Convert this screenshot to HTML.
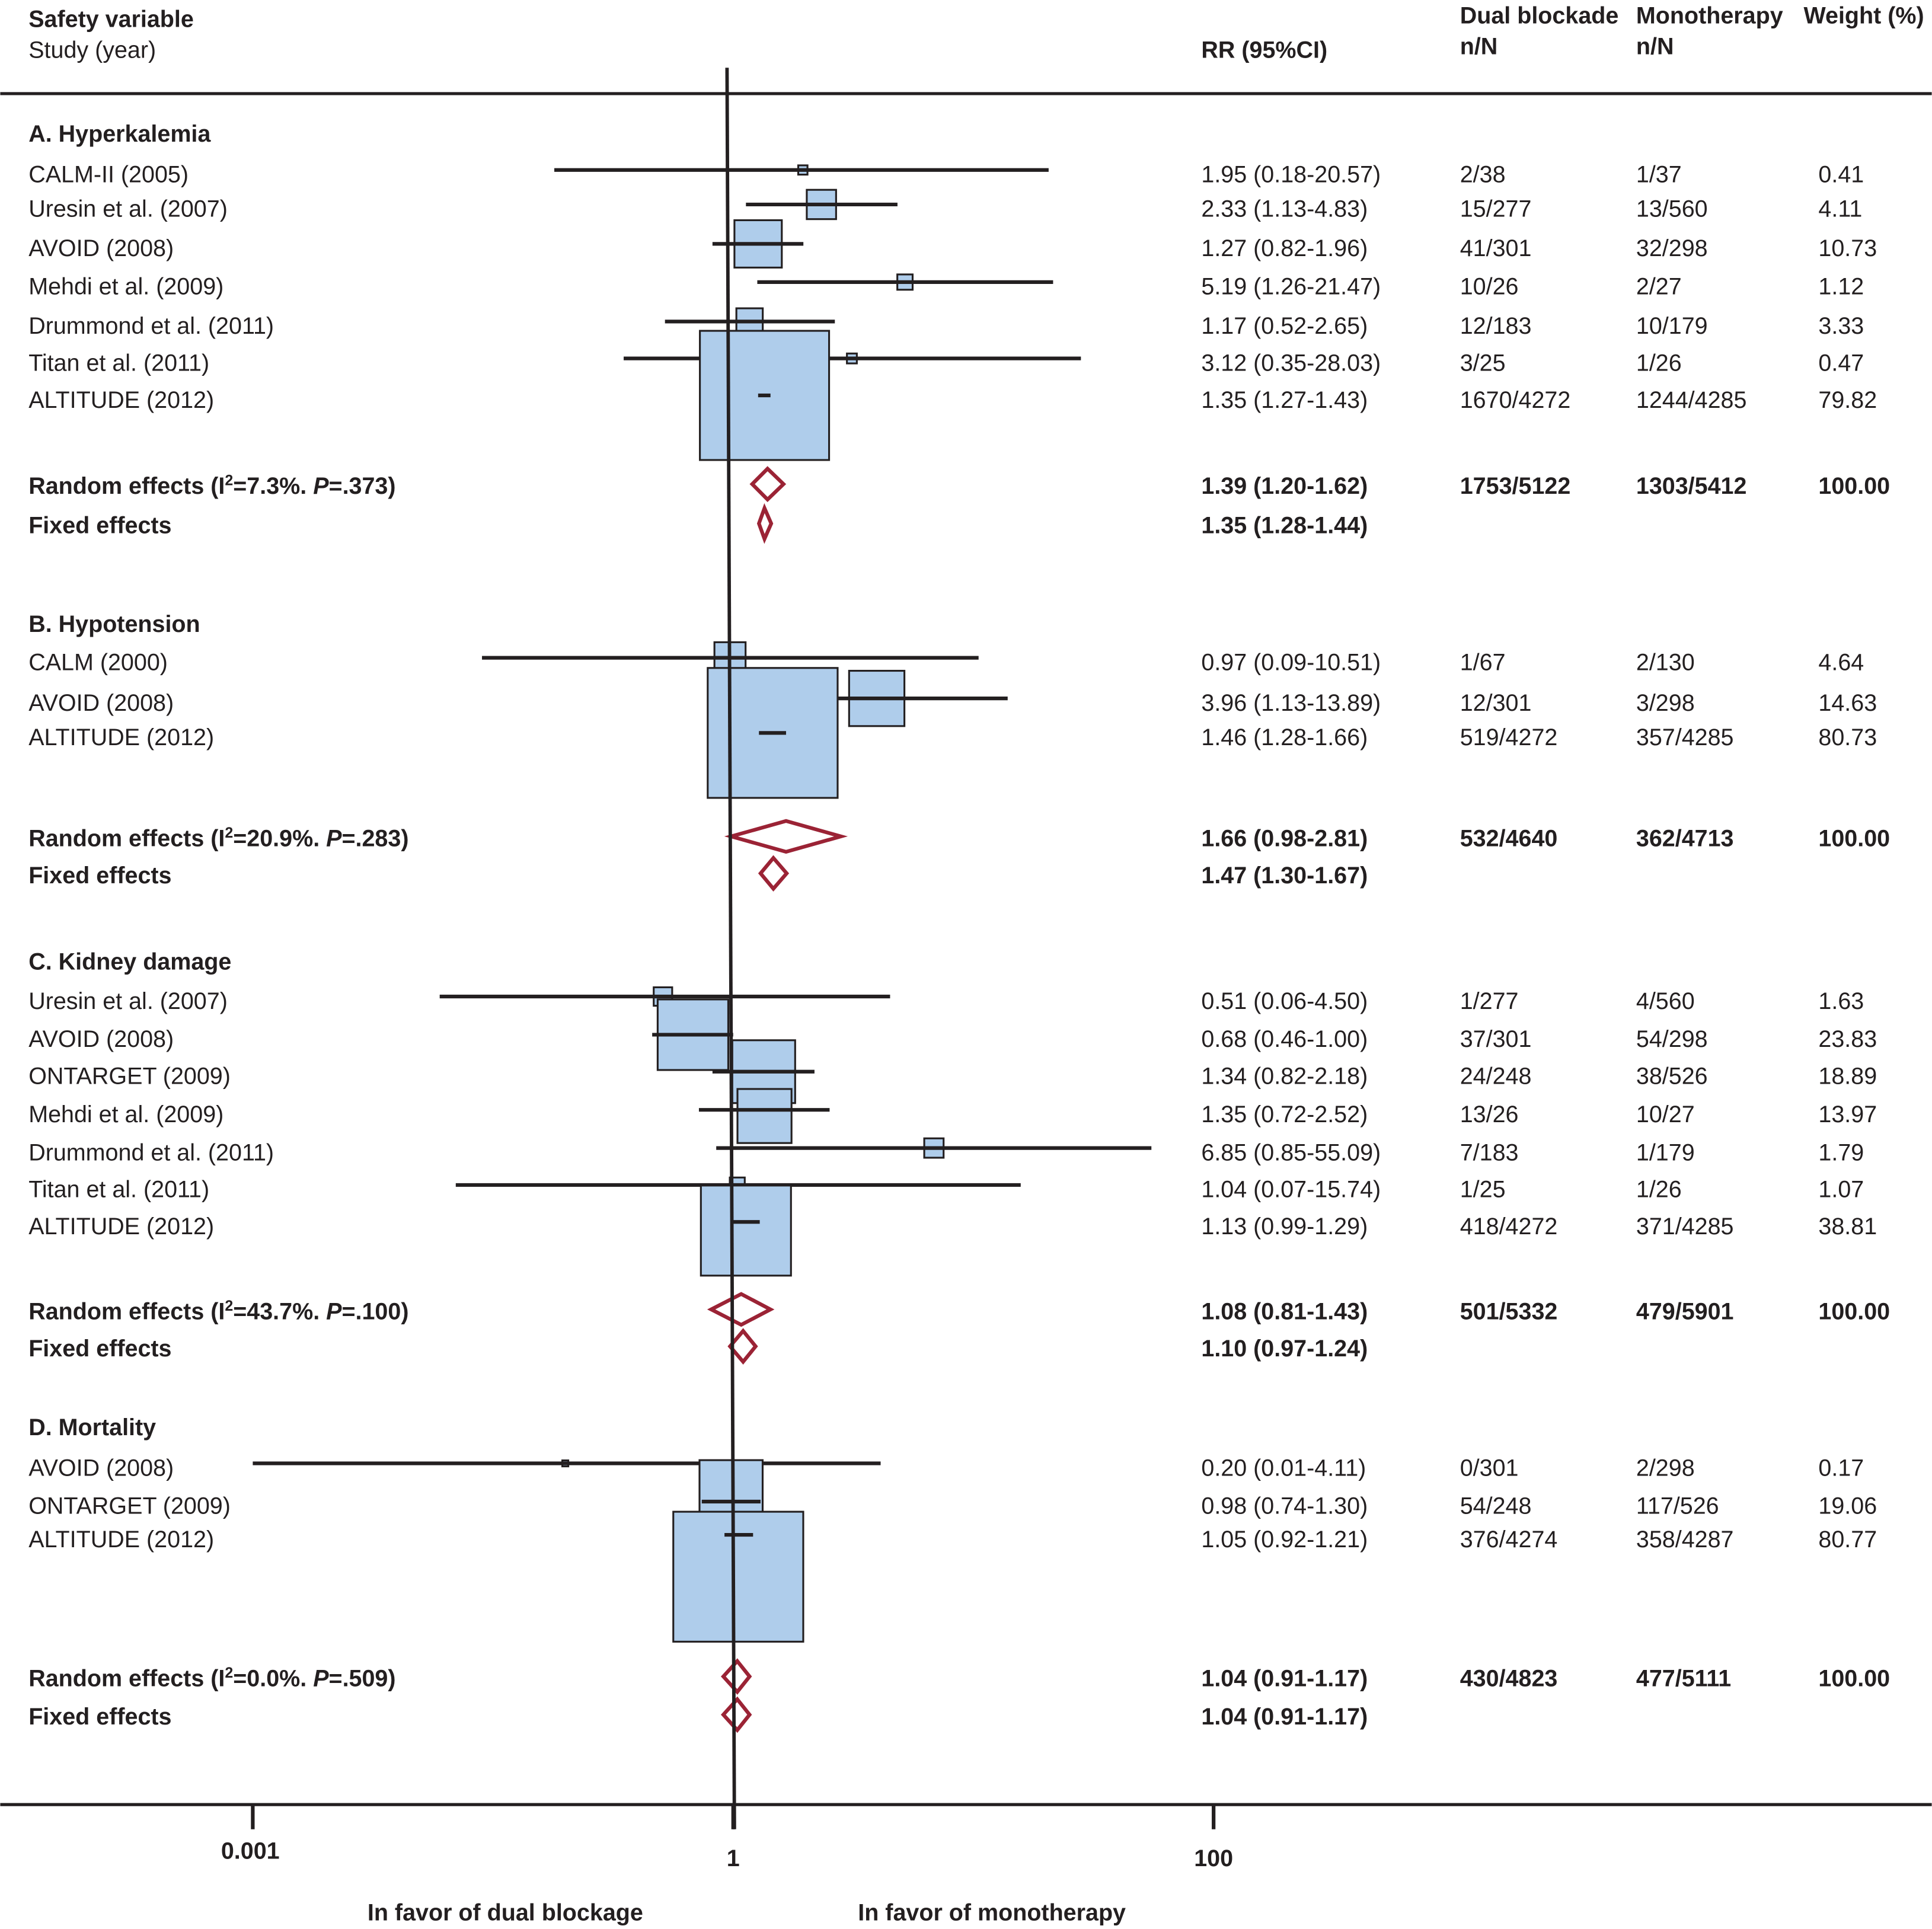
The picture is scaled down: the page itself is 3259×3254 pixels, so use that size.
<!DOCTYPE html>
<html><head><meta charset="utf-8"><style>
html,body{margin:0;padding:0;background:#fff}
svg{display:block}
text{font-family:"Liberation Sans",Arial,sans-serif;font-size:19px;fill:#231f20}
.b{font-weight:bold}
</style></head><body>
<svg id="chart" width="3259" height="3254" viewBox="0 0 1568 1566" xmlns="http://www.w3.org/2000/svg">
<g id="hdr">
<text x="23" y="22" class="b">Safety variable</text>
<text x="23" y="47">Study (year)</text>
<text x="975" y="47" class="b">RR (95%CI)</text>
<text x="1185" y="19" class="b">Dual blockade</text>
<text x="1185" y="44" class="b">n/N</text>
<text x="1328" y="19" class="b">Monotherapy</text>
<text x="1328" y="44" class="b">n/N</text>
<text x="1464" y="19" class="b">Weight (%)</text>
</g>
<line x1="0" y1="76" x2="1568" y2="76" stroke="#231f20" stroke-width="2.5"/>
<g id="marks"></g>
<g id="labels"></g>
<line x1="590" y1="55" x2="596" y2="1485" stroke="#231f20" stroke-width="2.8"/>
<g id="axis">
<line x1="0" y1="1465" x2="1568" y2="1465" stroke="#231f20" stroke-width="2.5"/>
</g>
<text x="410" y="1559" text-anchor="middle" class="b">In favor of dual blockage</text>
<text x="805" y="1559" text-anchor="middle" class="b">In favor of monotherapy</text>
</svg>
<script>
const studyNames=["CALM-II (2005)","Uresin et al. (2007)","AVOID (2008)","Mehdi et al. (2009)","Drummond et al. (2011)","Titan et al. (2011)","ALTITUDE (2012)",
"CALM (2000)","AVOID (2008)","ALTITUDE (2012)",
"Uresin et al. (2007)","AVOID (2008)","ONTARGET (2009)","Mehdi et al. (2009)","Drummond et al. (2011)","Titan et al. (2011)","ALTITUDE (2012)",
"AVOID (2008)","ONTARGET (2009)","ALTITUDE (2012)"];
const studyY=[141,169,201,232,264,294,324,537,570,598,812,843,873,904,935,965,995,1191,1222,1249];
const rr=[1.95,2.33,1.27,5.19,1.17,3.12,1.35,0.97,3.96,1.46,0.51,0.68,1.34,1.35,6.85,1.04,1.13,0.20,0.98,1.05];
const lo=[0.18,1.13,0.82,1.26,0.52,0.35,1.27,0.09,1.13,1.28,0.06,0.46,0.82,0.72,0.85,0.07,0.99,0.01,0.74,0.92];
const hi=[20.57,4.83,1.96,21.47,2.65,28.03,1.43,10.51,13.89,1.66,4.50,1.00,2.18,2.52,55.09,15.74,1.29,4.11,1.30,1.21];
const dualN=["2/38","15/277","41/301","10/26","12/183","3/25","1670/4272","1/67","12/301","519/4272","1/277","37/301","24/248","13/26","7/183","1/25","418/4272","0/301","54/248","376/4274"];
const monoN=["1/37","13/560","32/298","2/27","10/179","1/26","1244/4285","2/130","3/298","357/4285","4/560","54/298","38/526","10/27","1/179","1/26","371/4285","2/298","117/526","358/4287"];
const weights=[0.41,4.11,10.73,1.12,3.33,0.47,79.82,4.64,14.63,80.73,1.63,23.83,18.89,13.97,1.79,1.07,38.81,0.17,19.06,80.77];
const sectionNames=["A. Hyperkalemia","B. Hypotension","C. Kidney damage","D. Mortality"];
const sectionY=[108,506,780,1158];
const poolI2=["7.3","20.9","43.7","0.0"];
const poolP=[".373",".283",".100",".509"];
const poolY=[394,426,680,710,1064,1094,1362,1393];
const poolRR=[1.39,1.35,1.66,1.47,1.08,1.10,1.04,1.04];
const poolLo=[1.20,1.28,0.98,1.30,0.81,0.97,0.91,0.91];
const poolHi=[1.62,1.44,2.81,1.67,1.43,1.24,1.17,1.17];
const poolDual=["1753/5122","","532/4640","","501/5332","","430/4823",""];
const poolMono=["1303/5412","","362/4713","","479/5901","","477/5111",""];
const poolW=["100.00","","100.00","","100.00","","100.00",""];
const tickVals=[0.01,1,100];
const tickLabels=["0.001","1","100"];

const NS="http://www.w3.org/2000/svg";
const X=v=>595+195*Math.log10(v);
const boxShift=i=>({13:5,16:7,18:-8,19:34})[i]||0;
function mk(tag,attrs,parent){const e=document.createElementNS(NS,tag);for(const k in attrs)e.setAttribute(k,attrs[k]);parent.appendChild(e);return e;}
const marks=document.getElementById('marks'),labels=document.getElementById('labels'),axis=document.getElementById('axis');
function txt(s,x,y,bold,anchor){const t=mk('text',{x:x,y:y+7},labels);if(bold)t.setAttribute('class','b');if(anchor)t.setAttribute('text-anchor',anchor);t.textContent=s;return t;}
sectionNames.forEach((s,i)=>{const t=txt(s,23,sectionY[i],true);

});
studyNames.forEach((s,i)=>{
 const y=studyY[i]-3;
 const side=105*Math.sqrt(weights[i]/80);
 const r=mk('rect',{x:X(rr[i])-side/2,y:y+boxShift(i)-side/2,width:side,height:side,fill:'#afcdeb',stroke:'#231f20','stroke-width':1.5},marks);
 
 
 const l=mk('line',{x1:X(lo[i]),x2:X(hi[i]),y1:y,y2:y,stroke:'#231f20','stroke-width':3},marks);
 
 
 const a=txt(s,23,studyY[i]);
 
 
 txt(rr[i].toFixed(2)+" ("+lo[i].toFixed(2)+"-"+hi[i].toFixed(2)+")",975,studyY[i]);
 txt(dualN[i],1185,studyY[i]);txt(monoN[i],1328,studyY[i]);txt(weights[i].toFixed(2),1476,studyY[i]);
});
poolY.forEach((py,i)=>{
 const y=py-1,h=12.5;
 const d=mk('polygon',{points:`${X(poolLo[i])},${y} ${X(poolRR[i])},${y-h} ${X(poolHi[i])},${y} ${X(poolRR[i])},${y+h}`,fill:'#fff',stroke:'#9b2335','stroke-width':3},marks);
 
 
 let t;
 if(i%2==0){
  const k=i/2;
  t=mk('text',{x:23,y:py+7,'class':'b'},labels);
  t.innerHTML='Random effects (I<tspan dy="-7" font-size="12">2</tspan><tspan dy="7">='+poolI2[k]+'%. </tspan><tspan font-style="italic">P</tspan>='+poolP[k]+')';
 } else t=txt('Fixed effects',23,py,true);
 
 
 txt(poolRR[i].toFixed(2)+" ("+poolLo[i].toFixed(2)+"-"+poolHi[i].toFixed(2)+")",975,py,true);
 if(poolDual[i])txt(poolDual[i],1185,py,true);
 if(poolMono[i])txt(poolMono[i],1328,py,true);
 if(poolW[i])txt(poolW[i],1476,py,true);
});
tickVals.forEach((v,i)=>{
 const tk=mk('line',{x1:X(v),x2:X(v),y1:1465,y2:1485,stroke:'#231f20','stroke-width':3},axis);
 
 
 const t=mk('text',{x:X(v)+(i==0?-2:0),y:(i==0?1509:1515),'text-anchor':'middle','class':'b'},axis);
 
 
 t.textContent=tickLabels[i];
});
</script>
</body></html>
